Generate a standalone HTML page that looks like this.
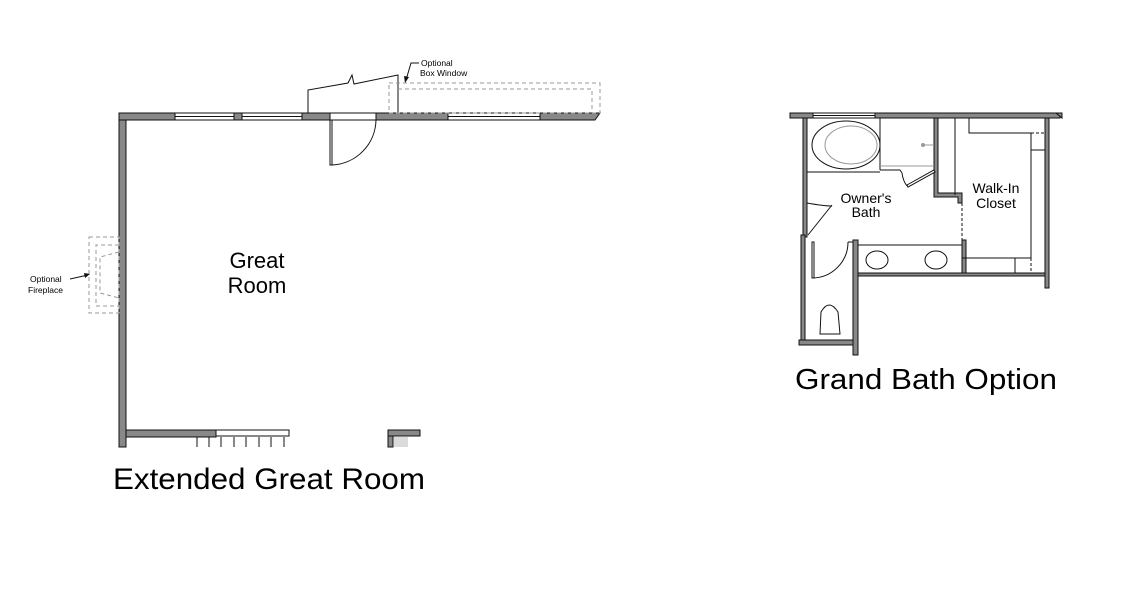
<!DOCTYPE html>
<html><head><meta charset="utf-8"><style>
html,body{margin:0;padding:0;background:#fff;}
svg{display:block;font-family:"Liberation Sans",Arial,sans-serif;}
</style></head><body>
<svg width="1137" height="603" viewBox="0 0 1137 603" xmlns="http://www.w3.org/2000/svg">
<g stroke="#111" stroke-width="1" fill="#888">
<rect x="119" y="113" width="7" height="334"/>
<rect x="119" y="113" width="56" height="7"/>
<rect x="234" y="113" width="8" height="7"/>
<rect x="302" y="113" width="28" height="7"/>
<rect x="376" y="113" width="72" height="7"/>
<polygon points="540,113 600,113 595,120 540,120"/>
<rect x="126" y="430" width="90" height="7"/>
<rect x="388" y="430" width="32" height="6"/>
<rect x="388" y="436" width="5" height="11"/>
</g>
<g stroke="#111" stroke-width="1" fill="#fff">
<rect x="175" y="113" width="59" height="7"/><line x1="175" y1="116.5" x2="234" y2="116.5"/>
<rect x="242" y="113" width="60" height="7"/><line x1="242" y1="116.5" x2="302" y2="116.5"/>
<rect x="448" y="113" width="92" height="7"/><line x1="448" y1="116.5" x2="540" y2="116.5"/>
<rect x="330" y="113" width="46" height="7"/>
<rect x="216" y="430" width="73" height="6"/>
<rect x="330" y="120" width="2" height="45"/>
<path d="M376,120 A46,46 0 0 1 332,165" fill="none"/>
<polyline points="308,113 308,90 348,83 352,75 354,84 398,75 398,113" fill="none"/>
</g>
<g stroke="#111" stroke-width="1">
<line x1="197" y1="437" x2="197" y2="447"/><line x1="209" y1="437" x2="209" y2="447"/>
<line x1="221" y1="437" x2="221" y2="447"/><line x1="234" y1="437" x2="234" y2="447"/>
<line x1="246" y1="437" x2="246" y2="447"/><line x1="259" y1="437" x2="259" y2="447"/>
<line x1="271" y1="437" x2="271" y2="447"/><line x1="284" y1="437" x2="284" y2="447"/>
</g>
<g stroke="#999" stroke-width="0.7"><line x1="395" y1="437" x2="395" y2="447"/><line x1="397" y1="437" x2="397" y2="447"/><line x1="399" y1="437" x2="399" y2="447"/><line x1="401" y1="437" x2="401" y2="447"/><line x1="403" y1="437" x2="403" y2="447"/><line x1="405" y1="437" x2="405" y2="447"/><line x1="407" y1="437" x2="407" y2="447"/></g>
<g stroke="#999" stroke-width="1" fill="none" stroke-dasharray="4,3">
<rect x="389" y="83" width="211" height="30"/>
<polyline points="398,89 592,89 592,113"/>
<rect x="89" y="237" width="30" height="76"/>
<polyline points="119,245 96,245 96,306 119,306"/>
<polyline points="119,252 100,257 100,293 119,298"/>
</g>
<g font-size="8.5" fill="#000">
<text x="421" y="66">Optional</text>
<text x="420" y="76">Box Window</text>
<text x="30" y="282">Optional</text>
<text x="28" y="293">Fireplace</text>
</g>
<g stroke="#111" fill="none" stroke-width="1">
<polyline points="419,63 411,63 406,80"/>
<line x1="70" y1="279" x2="88" y2="275"/>
</g>
<polygon points="405,83 404,76 409,77" fill="#111"/>
<polygon points="90,274 84,273 85,278" fill="#111"/>
<text x="257" y="268" font-size="22" text-anchor="middle" fill="#000">Great</text>
<text x="257" y="293" font-size="22" text-anchor="middle" fill="#000">Room</text>
<text x="113" y="489" font-size="30" fill="#000" textLength="312" lengthAdjust="spacingAndGlyphs">Extended Great Room</text>

<g stroke="#111" stroke-width="1" fill="#888">
<rect x="790" y="113" width="23" height="5"/>
<rect x="875" y="113" width="185" height="5"/>
<polygon points="1056,113 1062,113 1062,118"/>
<rect x="803" y="118" width="4" height="119"/>
<rect x="801" y="235" width="4" height="110"/>
<rect x="799" y="340" width="55" height="5"/>
<rect x="853" y="240" width="5" height="115"/>
<rect x="858" y="273" width="191" height="3"/>
<rect x="1045" y="118" width="4" height="170"/>
<polygon points="934,118 938,118 938,193 962,193 962,203 958,203 958,197 934,197"/>
<rect x="962" y="240" width="4" height="33"/>
</g>
<g stroke="#111" stroke-width="1" fill="#fff">
<rect x="813" y="113" width="62" height="5"/><line x1="813" y1="115.5" x2="875" y2="115.5"/>
<line x1="807" y1="172" x2="880" y2="172"/>
<line x1="880" y1="118" x2="880" y2="170"/>
<polyline points="880,170 900,170 902,173" fill="none"/>
<line x1="880" y1="166" x2="934" y2="166" stroke="#999"/>
<polygon points="907,185 934,170 935,172 908,187"/>
<path d="M902,173 Q903,181 907,186" fill="none"/>
<ellipse cx="846" cy="145" rx="34" ry="24"/>
<ellipse cx="851" cy="145" rx="26" ry="19" stroke="#999"/>
<path d="M832,205 L808,235" />
<path d="M807,203 Q824,206 832,206" fill="none"/>
<line x1="858" y1="245" x2="962" y2="245"/>
<rect x="812" y="242" width="2" height="36"/>
<path d="M812,278 A36,36 0 0 0 848,242" fill="none"/>
<line x1="848" y1="242" x2="853" y2="242"/>
<ellipse cx="877" cy="260" rx="11" ry="9"/>
<ellipse cx="936" cy="260" rx="11" ry="9"/>
<path d="M820,334 L821,312 Q829,298 838,312 L840,334 Z"/>
<polyline points="955,118 955,195" fill="none"/>
<polyline points="969,118 969,133 1031,133 1031,258 962,258" fill="none"/>
<line x1="1031" y1="150" x2="1045" y2="150"/>
<line x1="1015" y1="258" x2="1015" y2="273"/>
</g>
<g stroke="#111" stroke-width="1" stroke-dasharray="3,2"><line x1="962" y1="203" x2="962" y2="240"/><line x1="1031" y1="133" x2="1045" y2="133"/><line x1="1031" y1="258" x2="1031" y2="273"/></g>
<circle cx="923" cy="145" r="2" fill="#999"/><line x1="923" y1="145" x2="934" y2="145" stroke="#999"/>
<g font-size="14" fill="#000" text-anchor="middle">
<text x="866" y="203">Owner's</text>
<text x="866" y="217">Bath</text>
<text x="996" y="193">Walk-In</text>
<text x="996" y="208">Closet</text>
</g>
<text x="795" y="389" font-size="29" fill="#000" textLength="262" lengthAdjust="spacingAndGlyphs">Grand Bath Option</text>
</svg>
</body></html>
